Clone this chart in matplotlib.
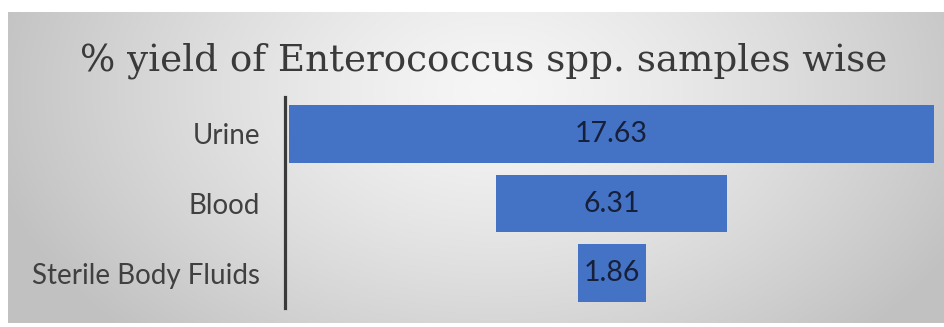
import numpy as np
import matplotlib
matplotlib.use("Agg")
import matplotlib.pyplot as plt

categories = ["Urine", "Blood", "Sterile Body Fluids"]
values = [17.63, 6.31, 1.86]
value_labels = ["17.63", "6.31", "1.86"]
title = "% yield of Enterococcus spp. samples wise"

W, H = 944, 327
fig = plt.figure(figsize=(W / 100, H / 100), dpi=100)
fig.patch.set_facecolor("white")

def px_rect(x0, y0, x1, y1):
    return [x0 / W, 1 - y1 / H, (x1 - x0) / W, (y1 - y0) / H]

# background gradient panel
bg = fig.add_axes(px_rect(8, 12, 944, 323))
bg.set_axis_off()
ny, nx = 200, 600
yy, xx = np.mgrid[0:ny, 0:nx]
cx, cy = nx * 0.52, ny * 0.25
d = np.sqrt(((xx - cx) / (nx * 0.55)) ** 2 + ((yy - cy) / (ny * 1.1)) ** 2)
d = np.clip(d, 0, 1)
light = np.array([0.965, 0.965, 0.965])
dark = np.array([0.76, 0.76, 0.76])
img = light[None, None, :] + (dark - light)[None, None, :] * (d[..., None] ** 1.3)
bg.imshow(img, aspect="auto", extent=[0, 1, 0, 1], interpolation="bilinear")
bg.set_xlim(0, 1)
bg.set_ylim(0, 1)

# main axes
ax = fig.add_axes(px_rect(285, 97, 944, 308))
ax.patch.set_alpha(0)
vmax = max(values)
lefts = [(vmax - v) / 2 for v in values]
ypos = np.arange(len(categories))
ax.barh(ypos, values, left=lefts, height=0.83, color="#4472C4", edgecolor="none")
ax.set_xlim(-0.11, 17.9)
ax.set_ylim(2.5, -0.53)
for s in ["top", "right", "bottom"]:
    ax.spines[s].set_visible(False)
ax.spines["left"].set_color("#3a3a3a")
ax.spines["left"].set_linewidth(2.3)
ax.set_xticks([])
ax.set_yticks(ypos)
ax.set_yticklabels(categories, fontfamily="Lato", fontsize=20, color="#404040")
ax.tick_params(axis="y", length=0, pad=18)
for y, l, v, lab in zip(ypos, lefts, values, value_labels):
    ax.text(l + v / 2, y, lab, ha="center", va="center", fontfamily="Lato",
            fontsize=20.5, color="#16203a")

fig.text(483.5 / W, 1 - 61 / H, title, ha="center", va="center",
         fontfamily="DejaVu Serif", fontsize=26.8, color="#3a3a3a")

fig.savefig("out.png", dpi=100)
